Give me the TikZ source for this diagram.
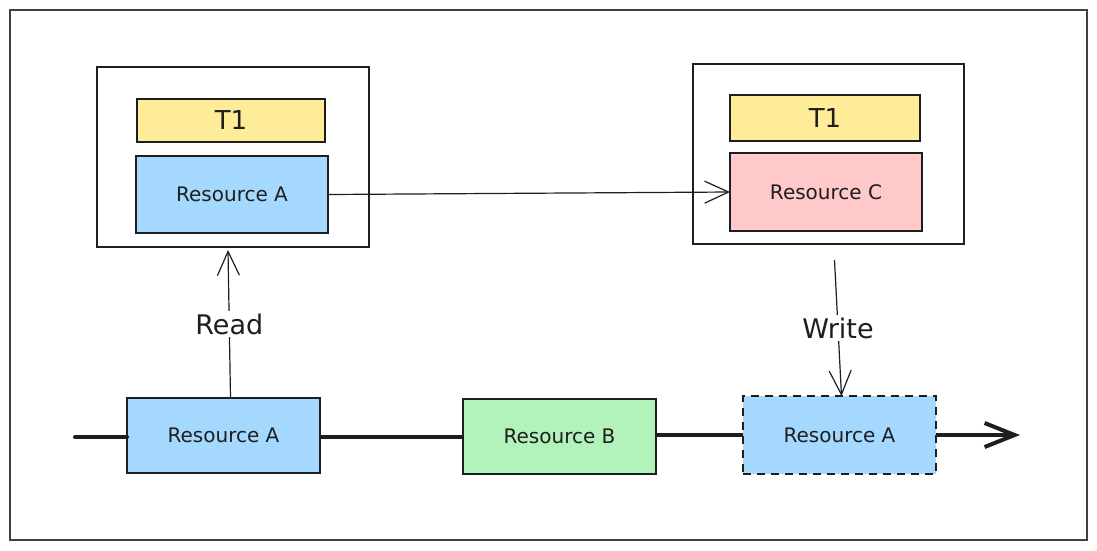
\documentclass[tikz,border=0pt]{standalone}
\usepackage{fontspec}
\setmainfont{DejaVu Sans}
\usetikzlibrary{arrows.meta,positioning,calc}
\definecolor{ink}{HTML}{1E1E1E}
\definecolor{bluef}{HTML}{A5D8FF}
\definecolor{yellowf}{HTML}{FFEC99}
\definecolor{pinkf}{HTML}{FFC9C9}
\definecolor{greenf}{HTML}{B2F2BB}
\tikzset{
  boxbase/.style={draw=ink, line width=1.2pt, inner sep=0pt, outer sep=0pt, text=ink},
  resbox/.style={boxbase, font=\fontsize{20}{24}\selectfont},
  titlebox/.style={boxbase, fill=yellowf, font=\fontsize{26}{30}\selectfont},
  thinarrow/.style={draw=ink, line width=1.2pt, -{Straight Barb[length=24pt,width=22pt,line width=1.2pt]}},
  timeline/.style={draw=ink, line width=4pt},
  lbl/.style={fill=white, text=ink, inner sep=3pt, font=\fontsize{27}{31}\selectfont},
  dashedbox/.style={dash pattern=on 8pt off 6pt, line width=1.5pt}
}
\begin{document}
\begin{tikzpicture}[x=1pt,y=-1pt]
\useasboundingbox (0,0) rectangle (1097,550);
\fill[white] (0,0) rectangle (1097,550);
\node[draw=ink!85, line width=1.1pt, minimum width=1077pt, minimum height=530pt, inner sep=0pt] (frame) at (548.5,275) {};

% left container
\node[boxbase, minimum width=272pt, minimum height=180pt] (leftC) at (233,157) {};
\node[titlebox, minimum width=188pt, minimum height=43pt] (t1l) at (231,120.5) {T1};
\node[resbox, fill=bluef, minimum width=192pt, minimum height=77pt] (resAt) at (232,194.5) {Resource A};

% right container
\node[boxbase, minimum width=271pt, minimum height=180pt] (rightC) at (828.5,154) {};
\node[titlebox, minimum width=190pt, minimum height=46pt] (t1r) at (825,118) {T1};
\node[resbox, fill=pinkf, minimum width=192pt, minimum height=78pt] (resC) at (826,192) {Resource C};

% timeline boxes
\coordinate (tstart) at (75,437);
\coordinate (tend) at (1020,435);
\node[resbox, fill=bluef, minimum width=193pt, minimum height=75pt] (resA1) at (223.5,435.5) {Resource A};
\node[resbox, fill=greenf, minimum width=193pt, minimum height=75pt] (resB) at (559.5,436.5) {Resource B};
\node[resbox, fill=bluef, dashedbox, minimum width=193pt, minimum height=78pt] (resA2) at (839.5,435) {Resource A};

% timeline
\draw[timeline, line cap=round] (tstart) -- (tstart -| resA1.west);
\draw[timeline] (resA1.east |- tstart) -- (resB.west |- tstart);
\draw[timeline] (resB.east |- tend) -- (resA2.west |- tend);
\draw[timeline, -{Straight Barb[length=30pt,width=24pt,line width=4pt]}] (resA2.east |- tend) -- (tend);

% arrows
\draw[thinarrow] (resAt.east) -- (resC.west);
\draw[thinarrow] ([xshift=7pt]resA1.north) -- node[lbl] {Read} ([xshift=-5pt,yshift=-3pt]leftC.south);
\draw[thinarrow] ([xshift=6pt,yshift=-16pt]rightC.south) -- node[lbl] {Write} ([xshift=2pt]resA2.north);
\end{tikzpicture}
\end{document}
